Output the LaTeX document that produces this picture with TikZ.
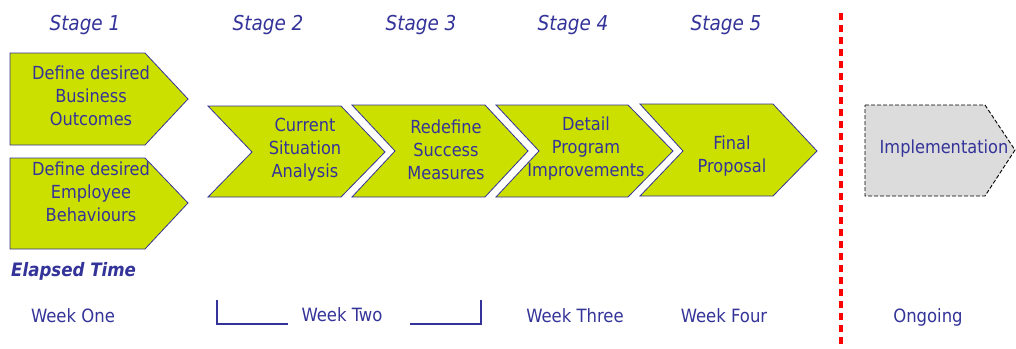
\documentclass[tikz,border=0pt]{standalone}
\usepackage{fontspec}
\setmainfont{DejaVu Sans Condensed}
\begin{document}
\begin{tikzpicture}[x=1pt,y=-1pt,
  txt/.style={text=ink,align=center,inner sep=0pt,font=\fontsize{18}{23}\selectfont},
  stagelbl/.style={text=ink,inner sep=0pt,font=\fontsize{20.5}{24}\selectfont\itshape},
  weeklbl/.style={text=ink,inner sep=0pt,font=\fontsize{18.3}{22}\selectfont},
  chev/.style={fill=lime1,draw=ink,line width=0.8pt,line join=miter},
]
\definecolor{ink}{RGB}{51,51,153}
\definecolor{lime1}{RGB}{204,224,0}
\definecolor{impl}{RGB}{220,220,220}
\useasboundingbox (0,0) rectangle (1016,348);

% stage labels
\node[stagelbl] (s1) at (85,25) {Stage 1};
\node[stagelbl] (s2) at (268,25) {Stage 2};
\node[stagelbl] (s3) at (421,25) {Stage 3};
\node[stagelbl] (s4) at (573,25) {Stage 4};
\node[stagelbl] (s5) at (726,25) {Stage 5};

% shapes
\draw[chev] (10,53) -- (145,53) -- (188,99) -- (145,145) -- (10,145) -- cycle;
\draw[chev] (10,158) -- (145,158) -- (188,203) -- (145,249) -- (10,249) -- cycle;
\draw[chev] (208,106) -- (341,106) -- (385,152) -- (341,197) -- (208,197) -- (252,152) -- cycle;
\draw[chev] (352,105) -- (485,105) -- (528,151) -- (485,197) -- (352,197) -- (395,151) -- cycle;
\draw[chev] (496,105) -- (628,105) -- (673,151) -- (628,197) -- (496,197) -- (539,151) -- cycle;
\draw[chev] (640,104) -- (773,104) -- (817,151) -- (773,196) -- (640,196) -- (683,151) -- cycle;
\draw[fill=impl,draw=black,dash pattern=on 4pt off 2pt,line width=0.9pt] (865,105) -- (985,105) -- (1015,150) -- (985,196) -- (865,196) -- cycle;

% texts
\node[txt] (b1) at (91,96) {Define desired\\Business\\Outcomes};
\node[txt] (b2) at (91,192) {Define desired\\Employee\\Behaviours};
\node[txt] (c2) at (305,150) {Current\\Situation\\Analysis};
\node[txt] (c3) at (446,150) {Redefine\\Success\\Measures};
\node[txt] (c4) at (586,149) {Detail\\Program\\Improvements};
\node[txt] (c5) at (732,156) {Final\\Proposal};
\node[txt] (im) at (944,149) {Implementation};

% red divider
\coordinate (rt) at (841,13);
\coordinate (rb) at (841,348);
\draw[red,line width=4.5pt,dash pattern=on 7pt off 5pt] (rt) -- (rb);

% elapsed time
\node[text=ink,inner sep=0pt,anchor=west,font=\fontsize{18.5}{22}\selectfont\bfseries\itshape] (el) at (11,271) {Elapsed Time};
\node[weeklbl] (w1) at (73,316) {Week One};
\node[weeklbl] (w2) at (342,315) {Week Two};
\node[weeklbl] (w3) at (575,316) {Week Three};
\node[weeklbl] (w4) at (724,316) {Week Four};
\node[weeklbl] (w5) at (928,317) {Ongoing};

% bracket
\coordinate (bl0) at (217,300);
\coordinate (bl1) at (288,324);
\coordinate (br0) at (410,324);
\coordinate (br1) at (481,300);
\draw[ink,line width=1.5pt] (bl0) |- (bl1);
\draw[ink,line width=1.5pt] (br0) -| (br1);
\end{tikzpicture}
\end{document}
